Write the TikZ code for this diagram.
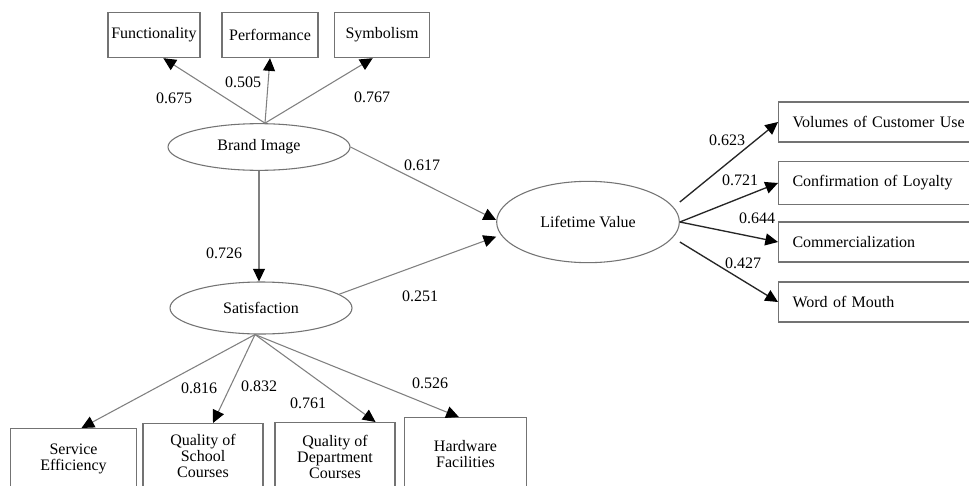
\documentclass[tikz,border=0pt]{standalone}
\usepackage{fontspec}
\setmainfont{Liberation Serif}
\usetikzlibrary{arrows.meta, shapes.geometric}
\colorlet{boxline}{black!55}
\colorlet{grayarrow}{black!50}
\colorlet{darkarrow}{black!85}

\begin{document}
\begin{tikzpicture}[x=0.75pt, y=-0.75pt, >={Triangle[length=9.5pt, width=9pt, color=black]},
    every node/.style={font=\fontsize{12}{12}\selectfont},
    itembox/.style={draw=boxline, line width=0.8pt, align=center, inner sep=0pt},
    rightbox/.style={draw=boxline, line width=0.8pt, anchor=west, align=left, text width=135pt, inner xsep=10.5pt, inner ysep=0pt, minimum height=30pt},
    latent/.style={draw=boxline, ellipse, line width=0.8pt, inner sep=0pt, minimum width=136.5pt},
    grayedge/.style={->, draw=grayarrow, line width=0.8pt},
    darkedge/.style={->, draw=darkarrow, line width=1pt},
    coef/.style={inner sep=1pt}]
    \clip (0,0) rectangle (969,485);
    \fill[white] (0,0) rectangle (969,485);

    \node[itembox, minimum width=69pt, minimum height=34pt] (fn) at (154,35) {Functionality};
    \node[itembox, minimum width=72pt, minimum height=34pt] (pf) at (270,35) {Performance};
    \node[itembox, minimum width=71pt, minimum height=34pt] (sy) at (382,35) {Symbolism};

    \node[latent, minimum height=35pt] (bi) at (259,147) {Brand Image};
    \node[latent, minimum height=39pt] (sat) at (261,308) {Satisfaction};
    \node[latent, minimum width=137pt, minimum height=61pt] (lv) at (588,222) {Lifetime Value};

    \node[rightbox] (vol) at (778,122) {Volumes of Customer Use};
    \node[rightbox, minimum height=32pt] (conf) at (778,183) {Confirmation of Loyalty};
    \node[rightbox] (com) at (778,242) {Commercialization};
    \node[rightbox] (wom) at (778,302) {Word of Mouth};

    \node[itembox, anchor=north, minimum width=95pt, minimum height=45pt] (se) at (73.5,428) {Service\\Efficiency};
    \node[itembox, anchor=north, minimum width=90pt, minimum height=48pt] (qs) at (203,423) {Quality of\\School\\Courses};
    \node[itembox, anchor=north, minimum width=90pt, minimum height=52pt] (qd) at (335,422) {Quality of\\Department\\Courses};
    \node[itembox, anchor=north, minimum width=92pt, minimum height=54pt] (hw) at (465.5,417) {Hardware\\Facilities};

    \coordinate (bi-top) at ([xshift=4.5pt]bi.north);
    \draw[grayedge] (bi-top) -- ([xshift=7pt]fn.south);
    \draw[grayedge] (bi-top) -- (pf.south);
    \draw[grayedge] (bi-top) -- ([xshift=-7pt]sy.south);
    \draw[grayedge] (bi.south) -- (bi.south |- sat.north);
    \draw[grayedge] (bi.east) -- ([yshift=1.5pt]lv.west);
    \draw[grayedge] (sat.10) -- ([yshift=-11pt]lv.west);

    \coordinate (sat-bottom) at ([xshift=-4.5pt]sat.south);
    \draw[grayedge] (sat-bottom) -- ([xshift=6pt]se.north);
    \draw[grayedge] (sat-bottom) -- ([xshift=7.5pt]qs.north);
    \draw[grayedge] (sat-bottom) -- ([xshift=-15pt]qd.north east);
    \draw[grayedge] (sat-bottom) -- ([xshift=-5pt]hw.north);

    \draw[darkedge] ([yshift=15pt]lv.east) -- (vol.west);
    \draw[darkedge] (lv.east) -- (conf.west);
    \draw[darkedge] (lv.east) -- (com.west);
    \draw[darkedge] ([yshift=-15pt]lv.east) -- (wom.west);

    \node[coef] (c-fn) at (174,98) {0.675};
    \node[coef] (c-pf) at (243,82) {0.505};
    \node[coef] (c-sy) at (372,97) {0.767};
    \node[coef] (c-bilv) at (422,165) {0.617};
    \node[coef] (c-bisat) at (224,253) {0.726};
    \node[coef] (c-satlv) at (420,296) {0.251};
    \node[coef] (c-se) at (199,388) {0.816};
    \node[coef] (c-qs) at (259,386) {0.832};
    \node[coef] (c-qd) at (308,403) {0.761};
    \node[coef] (c-hw) at (430,383) {0.526};
    \node[coef] (c-vol) at (727,140) {0.623};
    \node[coef] (c-conf) at (740,180) {0.721};
    \node[coef] (c-com) at (757,218) {0.644};
    \node[coef] (c-wom) at (743,263) {0.427};
\end{tikzpicture}
\end{document}
